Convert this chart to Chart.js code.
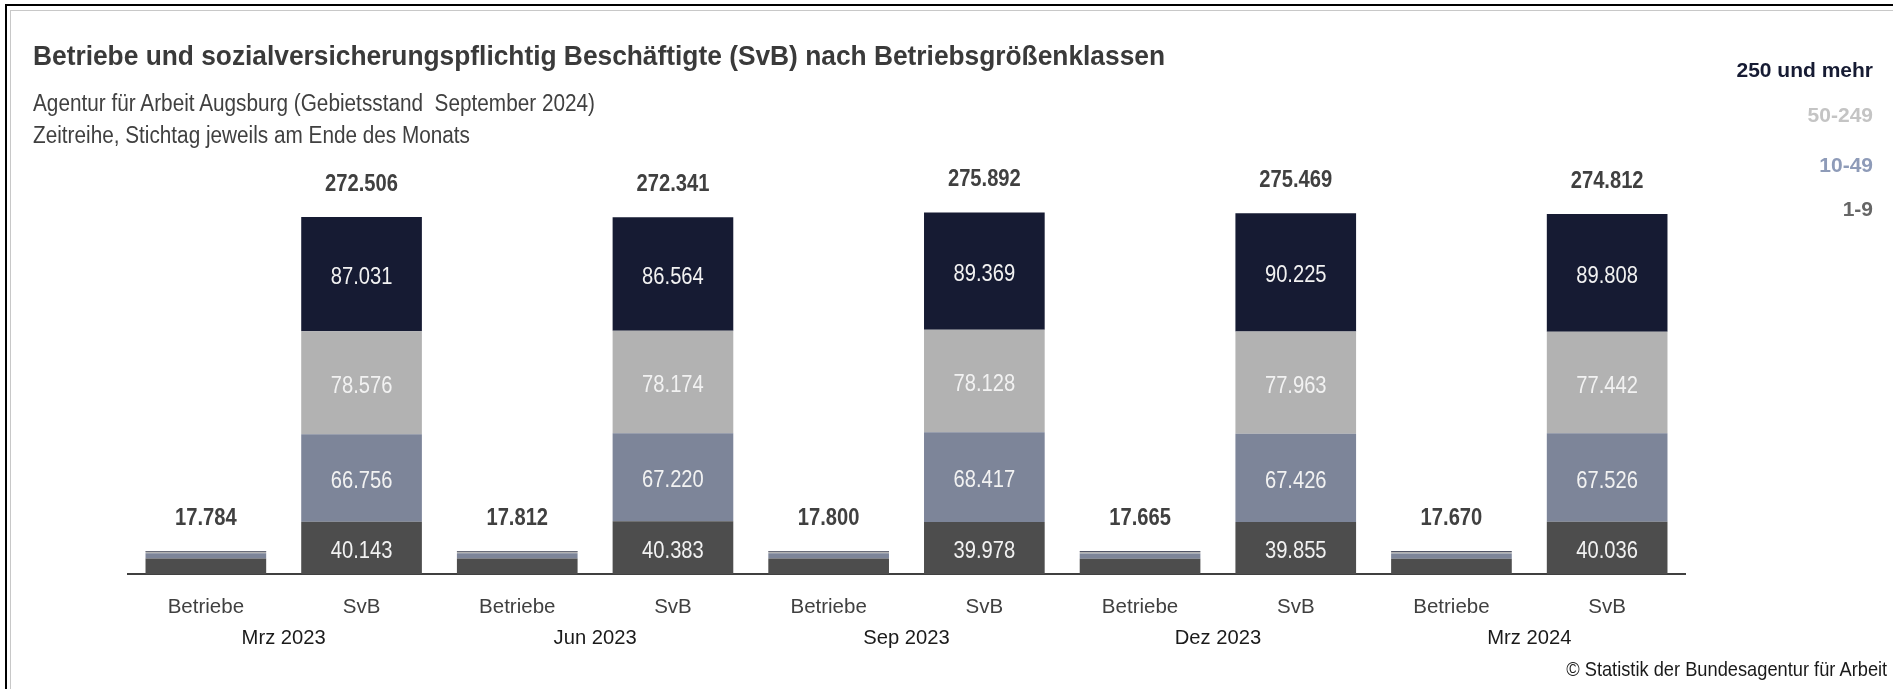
<!DOCTYPE html>
<html lang="de">
<head>
<meta charset="utf-8">
<title>Betriebe und SvB nach Betriebsgrößenklassen</title>
<script src="https://cdn.jsdelivr.net/npm/chart.js@4.4.1/dist/chart.umd.min.js"></script>
<style>
  html, body { margin: 0; padding: 0; background: #fff; }
  body { width: 1893px; height: 689px; position: relative; overflow: hidden; }
  #frame { position: absolute; left: 5px; top: 4px; width: 2000px; height: 800px; border: 2px solid #000; }
  #inner { position: absolute; left: 10px; top: 10px; width: 2000px; height: 800px; border-left: 1px solid #c8c8c8; border-top: 1px solid #c8c8c8; }
  canvas { position: absolute; left: 0; top: 0; }
  .txt { position: absolute; white-space: nowrap; }
  .fit { transform-origin: left center; }
  #title { left: 33px; top: 42px; font: bold 28px/28px "Liberation Sans", Arial, sans-serif; color: #3a3a3a; }
  .sub { left: 33px; font: 23px/23px "Liberation Sans", Arial, sans-serif; color: #404040; }
  #sub1 { top: 92px; }
  #sub2 { top: 124px; }
  .leg { right: 20px; font: bold 21px "Liberation Sans", Arial, sans-serif; text-align: right; }
  #footer { right: 6px; top: 657px; font: 21px "Liberation Sans", Arial, sans-serif; color: #1a1a1a; transform-origin: right center; }
</style>
</head>
<body>
<div id="frame"></div>
<div id="inner"></div>
<canvas id="chart" width="1893" height="689"></canvas>

<div class="txt fit" id="title">Betriebe und sozialversicherungspflichtig Beschäftigte (SvB) nach Betriebsgrößenklassen</div>
<div class="txt sub fit" id="sub1">Agentur für Arbeit Augsburg (Gebietsstand&nbsp; September 2024)</div>
<div class="txt sub fit" id="sub2">Zeitreihe, Stichtag jeweils am Ende des Monats</div>
<div id="legend"></div>
<div class="txt" id="footer">© Statistik der Bundesagentur für Arbeit</div>

<script>
// Stichtage
const months = ['Mrz 2023', 'Jun 2023', 'Sep 2023', 'Dez 2023', 'Mrz 2024'];
const barKinds = ['Betriebe', 'SvB'];

// Größenklassen (unten nach oben)
const sizeClasses = ['1-9', '10-49', '50-249', '250 und mehr'];
const classColors = ['#4d4d4d', '#7d8599', '#b2b2b2', '#161b33'];
const legendColors = ['#666666', '#8e9bb8', '#c4c4c4', '#161b33'];

// Betriebe je Größenklasse
const betriebe1to9    = [12034, 12052, 12015, 11905, 11910];
const betriebe10to49  = [4000, 4010, 4020, 4000, 4010];
const betriebe50to249 = [1150, 1150, 1160, 1155, 1150];
const betriebe250plus = [600, 600, 605, 605, 600];

// SvB je Größenklasse
const svb1to9    = [40143, 40383, 39978, 39855, 40036];
const svb10to49  = [66756, 67220, 68417, 67426, 67526];
const svb50to249 = [78576, 78174, 78128, 77963, 77442];
const svb250plus = [87031, 86564, 89369, 90225, 89808];

const betriebeSeries = [betriebe1to9, betriebe10to49, betriebe50to249, betriebe250plus];
const svbSeries = [svb1to9, svb10to49, svb50to249, svb250plus];

// x-Kategorien: je Monat Betriebe + SvB
const categories = months.flatMap(() => barKinds);

function fmt(v) {
    return String(v).replace(/\B(?=(\d{3})+(?!\d))/g, '.');
}

// schmale Schrift nachbilden: Text horizontal auf Zielbreite stauchen
function fitWidth(id, w) {
    const el = document.getElementById(id);
    el.style.transform = 'scaleX(' + (w / el.getBoundingClientRect().width) + ')';
}
fitWidth('title', 1132);
fitWidth('sub1', 562);
fitWidth('sub2', 437);
fitWidth('footer', 321);

// Legende rechts oben (oberste Klasse zuerst)
const legendTops = [58, 103, 153, 197];
const legendBox = document.getElementById('legend');
sizeClasses.slice().reverse().forEach((name, i) => {
    const el = document.createElement('div');
    el.className = 'txt leg';
    el.style.top = legendTops[i] + 'px';
    el.style.color = legendColors[sizeClasses.length - 1 - i];
    el.textContent = name;
    legendBox.appendChild(el);
});

function narrowText(ctx, text, x, y) {
    ctx.save();
    ctx.translate(x, y);
    ctx.scale(0.84, 1);
    ctx.fillText(text, 0, 0);
    ctx.restore();
}

// Werte in den SvB-Säulen und Summen oberhalb
const valueLabels = {
    id: 'valueLabels',
    afterDatasetsDraw(chart) {
        const ctx = chart.ctx;
        ctx.save();
        ctx.textAlign = 'center';
        ctx.textBaseline = 'middle';

        ctx.font = '24px "Liberation Sans", Arial, sans-serif';
        ctx.fillStyle = '#f2f2f2';
        chart.data.datasets.forEach((ds, di) => {
            chart.getDatasetMeta(di).data.forEach((bar, i) => {
                if (i % 2 === 1) {
                    narrowText(ctx, fmt(ds.data[i]), bar.x, (bar.y + bar.base) / 2 + 3.5);
                }
            });
        });

        ctx.font = 'bold 24px "Liberation Sans", Arial, sans-serif';
        ctx.fillStyle = '#404040';
        categories.forEach((c, i) => {
            let top = Infinity;
            let sum = 0;
            chart.data.datasets.forEach((ds, di) => {
                const bar = chart.getDatasetMeta(di).data[i];
                top = Math.min(top, bar.y);
                sum += ds.data[i];
            });
            narrowText(ctx, fmt(sum), chart.getDatasetMeta(0).data[i].x, top - 33);
        });
        ctx.restore();
    }
};

const datasets = sizeClasses.map((name, k) => ({
    label: name,
    data: months.flatMap((m, i) => [betriebeSeries[k][i], svbSeries[k][i]]),
    backgroundColor: classColors[k],
    borderWidth: 0,
    barPercentage: 0.775,
    categoryPercentage: 1
}));

const ctx = document.getElementById('chart').getContext('2d');
new Chart(ctx, {
    type: 'bar',
    data: { labels: categories, datasets: datasets },
    options: {
        responsive: false,
        animation: false,
        layout: { padding: { left: 128, right: 208, top: 181, bottom: 40 } },
        plugins: {
            legend: { display: false },
            tooltip: { enabled: false }
        },
        scales: {
            x: {
                stacked: true,
                weight: 0,
                grid: { display: false, drawTicks: true, tickLength: 23 },
                border: { display: true, color: '#404040', width: 2 },
                ticks: {
                    color: '#404040',
                    padding: 0,
                    maxRotation: 0,
                    font: { family: '"Liberation Sans", Arial, sans-serif', size: 20.5, lineHeight: 1 }
                }
            },
            x2: {
                type: 'category',
                labels: months,
                offset: true,
                position: 'bottom',
                weight: 1,
                grid: { display: false, drawTicks: true, tickLength: 11 },
                border: { display: false },
                ticks: {
                    color: '#1a1a1a',
                    padding: 0,
                    maxRotation: 0,
                    font: { family: '"Liberation Sans", Arial, sans-serif', size: 20.2, lineHeight: 1 }
                }
            },
            y: {
                stacked: true,
                display: false,
                min: 0,
                max: 300000
            }
        }
    },
    plugins: [valueLabels]
});
</script>
</body>
</html>
